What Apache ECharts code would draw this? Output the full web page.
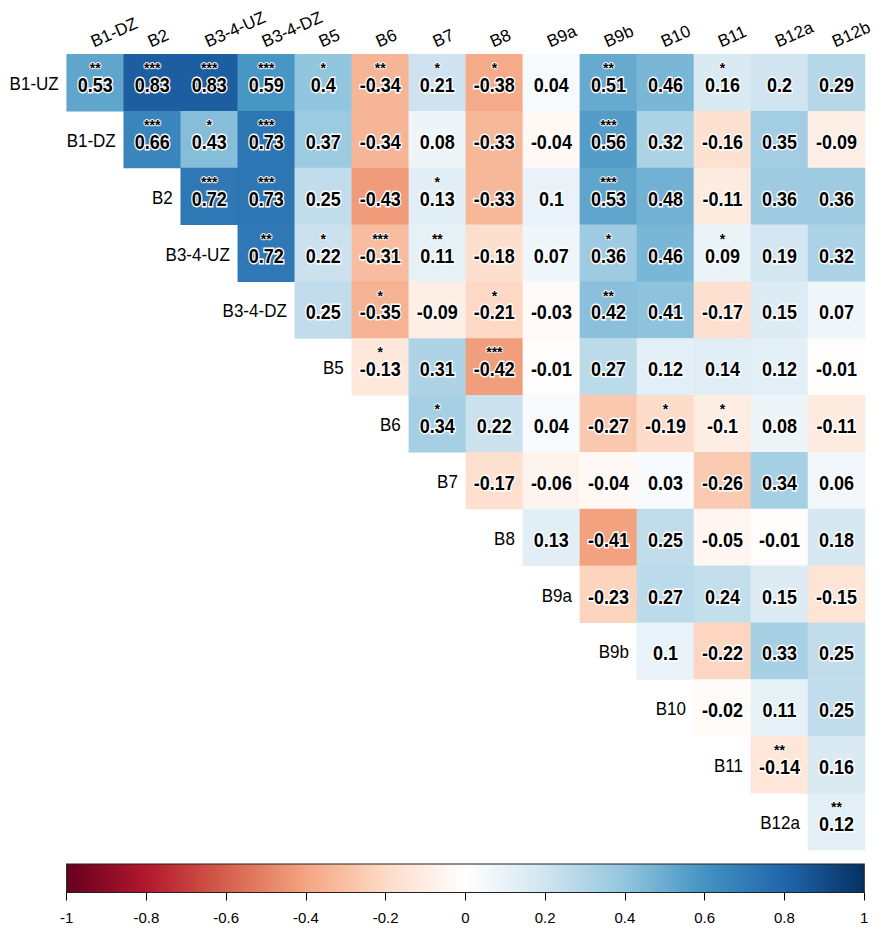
<!DOCTYPE html>
<html><head><meta charset="utf-8">
<script src="https://cdn.jsdelivr.net/npm/echarts@6/dist/echarts.min.js"></script>
<style>html,body{margin:0;padding:0;background:#fff}#c{width:886px;height:939px}</style>
</head><body><div id="c"></div>
<script>
// Column and row labels
const colLabels = ['B1-DZ','B2','B3-4-UZ','B3-4-DZ','B5','B6','B7','B8','B9a','B9b','B10','B11','B12a','B12b'];
const rowLabels = ['B1-UZ','B1-DZ','B2','B3-4-UZ','B3-4-DZ','B5','B6','B7','B8','B9a','B9b','B10','B11','B12a'];

// Upper-triangle correlation values: row i covers columns i..13
const vB1UZ  = [0.53,0.83,0.83,0.59,0.4,-0.34,0.21,-0.38,0.04,0.51,0.46,0.16,0.2,0.29];
const vB1DZ  = [0.66,0.43,0.73,0.37,-0.34,0.08,-0.33,-0.04,0.56,0.32,-0.16,0.35,-0.09];
const vB2    = [0.72,0.73,0.25,-0.43,0.13,-0.33,0.1,0.53,0.48,-0.11,0.36,0.36];
const vB34UZ = [0.72,0.22,-0.31,0.11,-0.18,0.07,0.36,0.46,0.09,0.19,0.32];
const vB34DZ = [0.25,-0.35,-0.09,-0.21,-0.03,0.42,0.41,-0.17,0.15,0.07];
const vB5    = [-0.13,0.31,-0.42,-0.01,0.27,0.12,0.14,0.12,-0.01];
const vB6    = [0.34,0.22,0.04,-0.27,-0.19,-0.1,0.08,-0.11];
const vB7    = [-0.17,-0.06,-0.04,0.03,-0.26,0.34,0.06];
const vB8    = [0.13,-0.41,0.25,-0.05,-0.01,0.18];
const vB9a   = [-0.23,0.27,0.24,0.15,-0.15];
const vB9b   = [0.1,-0.22,0.33,0.25];
const vB10   = [-0.02,0.11,0.25];
const vB11   = [-0.14,0.16];
const vB12a  = [0.12];

// Significance stars, parallel to the value rows
const sB1UZ  = ['**','***','***','***','*','**','*','*','','**','','*','',''];
const sB1DZ  = ['***','*','***','','','','','','***','','','',''];
const sB2    = ['***','***','','','*','','','***','','','',''];
const sB34UZ = ['**','*','***','**','','','*','','*','',''];
const sB34DZ = ['','*','','*','','**','','','',''];
const sB5    = ['*','','***','','','','','',''];
const sB6    = ['*','','','','*','*','',''];
const sB7    = ['','','','','','',''];
const sB8    = ['','','','','',''];
const sB9a   = ['','','','',''];
const sB9b   = ['','','',''];
const sB10   = ['','',''];
const sB11   = ['**',''];
const sB12a  = ['**'];

// Colour bar tick labels
const colorbarTicks = ['-1','-0.8','-0.6','-0.4','-0.2','0','0.2','0.4','0.6','0.8','1'];
// RdBu palette (from -1 to 1)
const palette = ['#67001F','#B2182B','#D6604D','#F4A582','#FDDBC7','#FFFFFF','#D1E5F0','#92C5DE','#4393C3','#2166AC','#053061'];

const valueRows = [vB1UZ,vB1DZ,vB2,vB34UZ,vB34DZ,vB5,vB6,vB7,vB8,vB9a,vB9b,vB10,vB11,vB12a];
const starRows  = [sB1UZ,sB1DZ,sB2,sB34UZ,sB34DZ,sB5,sB6,sB7,sB8,sB9a,sB9b,sB10,sB11,sB12a];

const cells = [];
const cellStars = [];
valueRows.forEach((row, i) => {
  row.forEach((v, k) => {
    cells.push([i + k, i, v]);
    cellStars.push(starRows[i][k]);
  });
});

const FONT = '"Liberation Sans", Arial, sans-serif';
const SY = 1.1; // vertical stretch of the text glyphs
const chart = echarts.init(document.getElementById('c'), null, {renderer: 'svg'});

const gradStops = palette.map((c, i) => ({offset: i / (palette.length - 1), color: c}));

chart.setOption({
  animation: false,
  backgroundColor: '#fff',
  grid: [
    {left: 66.7, top: 54.3, width: 798.3, height: 795.7},
    {left: 66.7, top: 864, width: 797.5, height: 28.5}
  ],
  xAxis: [
    {type: 'category', data: colLabels, gridIndex: 0, show: false},
    {type: 'value', gridIndex: 1, min: -1, max: 1, interval: 0.2, position: 'bottom',
      axisLine: {show: false},
      axisTick: {show: true, length: 8, lineStyle: {color: '#000', width: 1}},
      splitLine: {show: false},
      axisLabel: {color: '#000', fontSize: 15, fontFamily: FONT, margin: 17,
        formatter: (val) => colorbarTicks[Math.round((val + 1) / 0.2)]}}
  ],
  yAxis: [
    {type: 'category', data: rowLabels, gridIndex: 0, inverse: true, show: false},
    {type: 'value', gridIndex: 1, min: 0, max: 1, show: false}
  ],
  visualMap: {
    type: 'continuous', show: false, min: -1, max: 1, dimension: 2, seriesIndex: 0,
    inRange: {color: palette}
  },
  series: [
    {
      type: 'heatmap', xAxisIndex: 0, yAxisIndex: 0, data: cells,
      itemStyle: {borderWidth: 0}, label: {show: false}, emphasis: {disabled: true}
    },
    {
      type: 'custom', xAxisIndex: 0, yAxisIndex: 0, data: cells, silent: true,
      renderItem: function (params, api) {
        const p = api.coord([api.value(0), api.value(1)]);
        const v = api.value(2);
        const st = cellStars[params.dataIndex];
        const children = [{
          type: 'text', x: p[0], y: p[1] + 2.5, scaleY: SY,
          style: {text: String(v), x: 0, y: 0, align: 'center', verticalAlign: 'middle',
            font: 'bold 18px ' + FONT, fill: '#000', stroke: '#fff', lineWidth: 2.5}
        }];
        if (st) {
          children.push({
            type: 'text', x: p[0], y: p[1] - 14.5,
            style: {text: st, x: 0, y: 0, align: 'center', verticalAlign: 'middle',
              font: 'bold 14px ' + FONT, fill: '#000', stroke: '#fff', lineWidth: 1.5}
          });
        }
        return {type: 'group', children: children};
      }
    },
    {
      type: 'custom', xAxisIndex: 0, yAxisIndex: 0, silent: true,
      data: rowLabels.map((r, i) => [i, i]),
      renderItem: function (params, api) {
        const p = api.coord([api.value(0), api.value(1)]);
        const s = api.size([1, 1]);
        return {type: 'text', x: p[0] - s[0] / 2 - 8, y: p[1] + 1, scaleY: SY,
          style: {text: rowLabels[params.dataIndex], x: 0, y: 0,
          align: 'right', verticalAlign: 'middle', font: '17px ' + FONT, fill: '#000'}};
      }
    },
    {
      type: 'custom', xAxisIndex: 0, yAxisIndex: 0, silent: true,
      data: colLabels.map((c, j) => [j, 0]),
      renderItem: function (params, api) {
        const p = api.coord([api.value(0), api.value(1)]);
        const s = api.size([1, 1]);
        return {type: 'text', x: p[0], y: p[1] - s[1] / 2 - 4, rotation: 24 * Math.PI / 180,
          style: {text: colLabels[params.dataIndex], x: 0, y: 0, align: 'left', verticalAlign: 'bottom',
            font: '17px ' + FONT, fill: '#000'}};
      }
    },
    {
      type: 'custom', xAxisIndex: 1, yAxisIndex: 1, silent: true,
      data: [[-1, 0, 1, 1]],
      renderItem: function (params, api) {
        const p0 = api.coord([api.value(0), api.value(1)]);
        const p1 = api.coord([api.value(2), api.value(3)]);
        return {type: 'rect', shape: {x: p0[0], y: p1[1], width: p1[0] - p0[0], height: p0[1] - p1[1]},
          style: {fill: new echarts.graphic.LinearGradient(0, 0, 1, 0, gradStops), stroke: '#222', lineWidth: 1.2}};
      }
    }
  ]
});
</script></body></html>
